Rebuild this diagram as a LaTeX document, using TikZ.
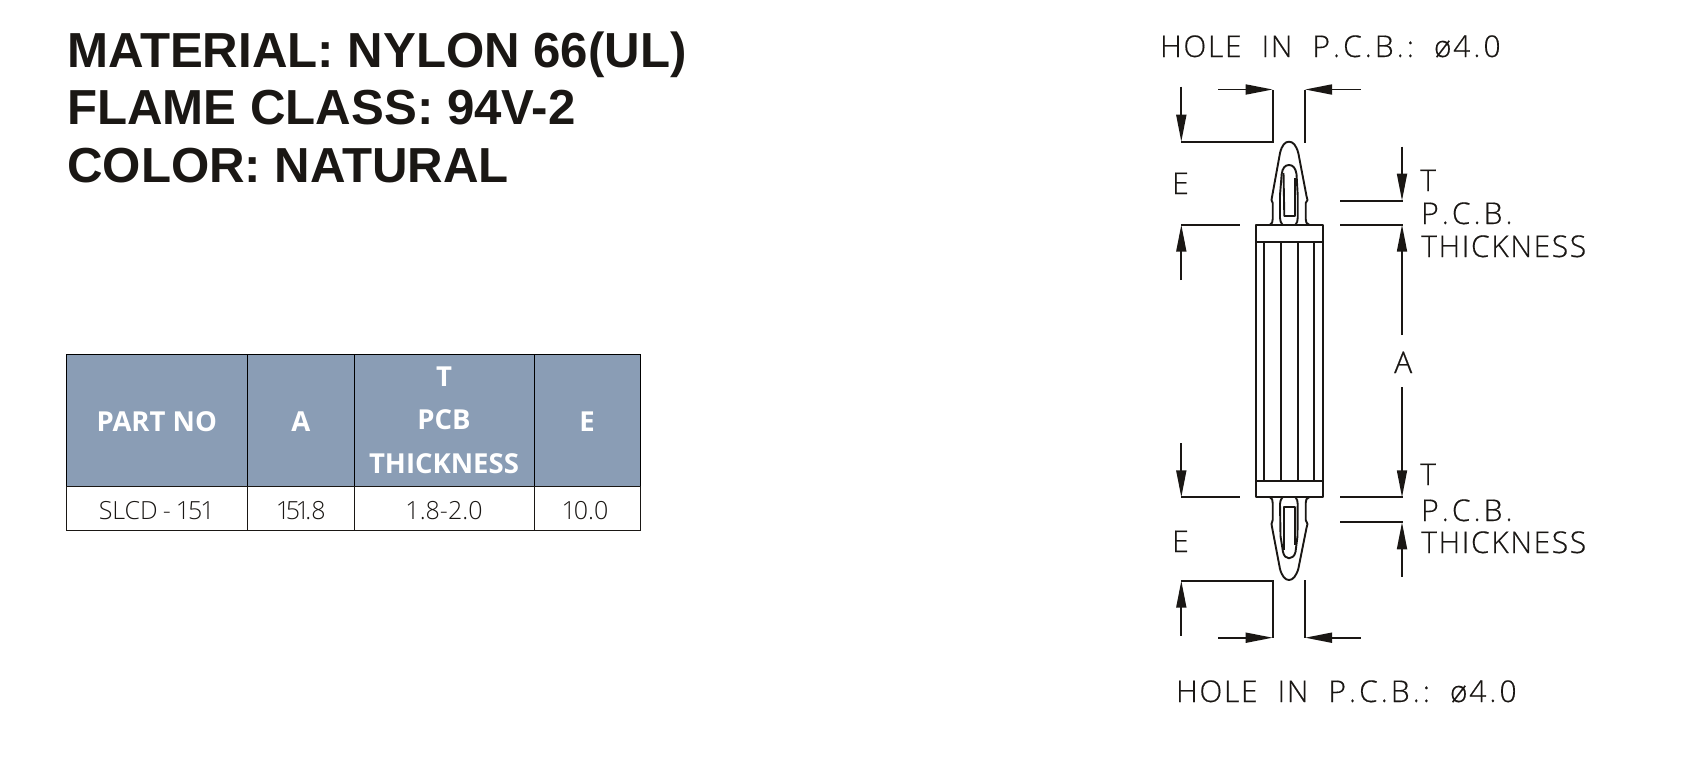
\documentclass[tikz,border=0pt]{standalone}
\usepackage{fontspec}
\usepackage{tikz}
\usetikzlibrary{arrows.meta,positioning}
\setmainfont{Liberation Sans}
\newfontfamily\tablefont{Open Sans}
\newfontfamily\lightfont{Open Sans Light}
\newfontfamily\cadfont[LetterSpace=5.5,FakeBold=0.4]{Open Sans Light}
\definecolor{headblue}{HTML}{8A9DB5}
\definecolor{inkblack}{HTML}{1A1714}
\newcommand{\pcbtext}{P\kern3pt.\kern3pt C\kern3pt.\kern3pt B\kern3pt.}
\newcommand{\holetext}{HOLE\hspace{20pt}IN\hspace{20pt}\pcbtext\kern3pt:\hspace{20pt}ø4\kern3pt.\kern3pt 0}
\tikzset{
  part/.style={line width=1.9pt,color=inkblack,line join=round},
  dim/.style={line width=1.7pt,color=inkblack},
  dimarrow/.style={dim,-{Stealth[length=27pt,width=10pt,inset=0pt]}},
  titletext/.style={anchor=base west,inner sep=0pt,color=inkblack,font=\fontsize{49.2}{50}\selectfont\bfseries},
  cadtext/.style={anchor=base west,inner sep=0pt,color=inkblack,font=\fontsize{30}{30}\cadfont},
  headcell/.style={draw=black,line width=0.8pt,outer sep=0pt,fill=headblue,text=white,inner sep=0pt,align=center,minimum height=132pt,font=\fontsize{27.5}{43.5}\tablefont\bfseries},
  singlehead/.style={headcell,text height=23pt,text depth=0pt},
  bodycell/.style={draw=black,line width=0.8pt,outer sep=0pt,inner sep=0pt,minimum height=44pt,color=inkblack,text height=22pt,text depth=0pt,font=\fontsize{25}{25}\lightfont}
}
\begin{document}
\begin{tikzpicture}[x=1pt,y=-1pt]
  \useasboundingbox (0,0) rectangle (1682,774);
  % heading
  \node[titletext] (material) at (67,67) {MATERIAL: NYLON 66(UL)};
  \node[titletext] (flame) at (67,124) {FLAME CLASS: 94V-2};
  \node[titletext] (color) at (67,182) {COLOR: NATURAL};
  % table
  \node[singlehead,minimum width=181.5pt,anchor=north west] (partno) at (66,354) {PART NO};
  \node[singlehead,minimum width=106.5pt,right=0pt of partno] (cola) {A};
  \node[headcell,minimum width=180pt,right=0pt of cola] (colt) {T\\PCB\\THICKNESS};
  \node[singlehead,minimum width=106pt,right=0pt of colt] (cole) {E};
  \node[bodycell,minimum width=181.5pt,below=0pt of partno] (partval) {SLCD\kern5pt-\kern5pt 1\kern-2pt 5\kern-2pt 1};
  \node[bodycell,minimum width=106.5pt,below=0pt of cola] (aval) {1\kern-4.5pt 5\kern-4.5pt 1\kern-4.5pt .8};
  \node[bodycell,minimum width=180pt,below=0pt of colt] (tval) {1.8-2.0};
  \node[bodycell,minimum width=106pt,below=0pt of cole] (eval) {\kern-4pt 1\kern-2pt 0.0};
  % body of the spacer
  \draw[part] (1256.3,224.7) rectangle (1323,497.3);
  \draw[part] (1256.3,241.7) -- (1323,241.7);
  \draw[part] (1256.3,480.7) -- (1323,480.7);
  \foreach \x in {1264,1281.3,1297.7,1314.3}
    \draw[part] (\x,241.7) -- (\x,480.7);
  % top clip
  \draw[part] (1270,224.7) .. controls (1272,224) and (1272.7,222) .. (1272.7,219) -- (1272.7,203) -- (1271.5,200) -- (1272.2,196) -- (1280,153) .. controls (1282,145) and (1285,141.7) .. (1289,141.7) .. controls (1293,141.7) and (1296,145) .. (1298.3,153) -- (1306.5,196) -- (1307.5,200) -- (1305.7,203) -- (1305.7,219) .. controls (1305.7,222) and (1306.5,224) .. (1309,224.7);
  \draw[part] (1282.5,224.7) .. controls (1281,223) and (1280,221) .. (1280,218) -- (1280,195) -- (1281.7,174) .. controls (1282.5,168) and (1285,165) .. (1289,165) .. controls (1293,165) and (1295.5,168) .. (1296.5,174) -- (1297.7,195) -- (1297.7,218) .. controls (1297.7,221) and (1297,223) .. (1295.5,224.7);
  \draw[part] (1283.5,173) -- (1284.3,216) -- (1295,216) -- (1295,178);
  % bottom clip
  \draw[part] (1270,497.3) .. controls (1272,498) and (1272.7,500) .. (1272.7,503) -- (1272.7,520) -- (1271.5,524) -- (1272.2,528) -- (1280,569) .. controls (1282,576) and (1285,580) .. (1289,580) .. controls (1293,580) and (1296,576) .. (1298.3,569) -- (1306.5,528) -- (1307.5,524) -- (1305.7,520) -- (1305.7,503) .. controls (1305.7,500) and (1306.5,498) .. (1309,497.3);
  \draw[part] (1282.5,497.3) .. controls (1281,499) and (1280,501) .. (1280,504) -- (1280.5,536) -- (1283,552) .. controls (1284,556) and (1286,558.3) .. (1289,558.3) .. controls (1292,558.3) and (1294.5,556) .. (1295.5,552) -- (1297.5,536) -- (1297.7,504) .. controls (1297.7,501) and (1297,499) .. (1295.5,497.3);
  \draw[part] (1284.3,550) -- (1284.3,507.3) -- (1295,507.3) -- (1295,545);
  % top dimensions
  \draw[dim] (1181.3,141.7) -- (1272.7,141.7) -- (1272.7,89.5);
  \draw[dimarrow] (1181.3,86.7) -- (1181.3,141.7);
  \draw[dimarrow] (1218,89.5) -- (1272.7,89.5);
  \draw[dim] (1305,142.7) -- (1305,89.5);
  \draw[dimarrow] (1360.7,89.5) -- (1305,89.5);
  \draw[dim] (1340,200.7) -- (1402.7,200.7);
  \draw[dimarrow] (1402,146.7) -- (1402,200.7);
  \draw[dim] (1340,224.7) -- (1402.7,224.7);
  \draw[dim] (1181.3,224.7) -- (1240,224.7);
  \draw[dimarrow] (1181.3,280) -- (1181.3,224.7);
  \draw[dimarrow] (1402,335) -- (1402,224.7);
  \draw[dimarrow] (1402,387) -- (1402,497.3);
  % bottom dimensions
  \draw[dim] (1181.3,497.3) -- (1240,497.3);
  \draw[dimarrow] (1181.3,443.3) -- (1181.3,497.3);
  \draw[dim] (1340,497.3) -- (1402.7,497.3);
  \draw[dim] (1340,522.3) -- (1402.7,522.3);
  \draw[dimarrow] (1402,576.7) -- (1402,522.3);
  \draw[dim] (1181.3,580.7) -- (1272.7,580.7) -- (1272.7,637.7);
  \draw[dimarrow] (1181.3,635.7) -- (1181.3,580.7);
  \draw[dimarrow] (1218,637.7) -- (1272.7,637.7);
  \draw[dim] (1305,580) -- (1305,637.7);
  \draw[dimarrow] (1360.7,637.7) -- (1305,637.7);
  % drawing labels
  \node[cadtext] (holetop) at (1160,57) {\holetext};
  \node[cadtext] (etop) at (1172,194) {E};
  \node[cadtext] (ttop) at (1420,191) {T};
  \node[cadtext] (pcbtop) at (1421,224) {\pcbtext};
  \node[cadtext] (thicktop) at (1421,257) {THICKNESS};
  \node[cadtext] (alabel) at (1394,373) {A};
  \node[cadtext] (ebottom) at (1172,552) {E};
  \node[cadtext] (tbottom) at (1420,485) {T};
  \node[cadtext] (pcbbottom) at (1421,521) {\pcbtext};
  \node[cadtext] (thickbottom) at (1421,553) {THICKNESS};
  \node[cadtext] (holebottom) at (1176,702) {\holetext};
\end{tikzpicture}
\end{document}
